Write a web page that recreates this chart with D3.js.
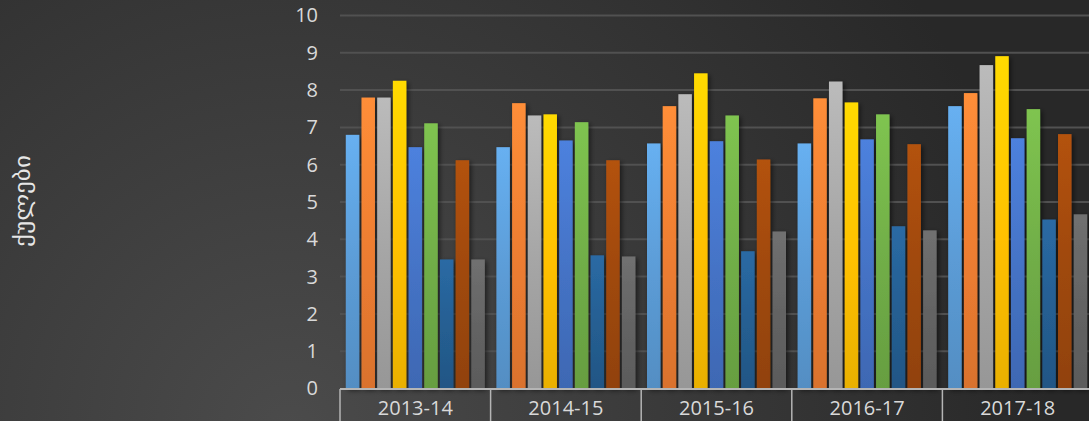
<!DOCTYPE html>
<html>
<head>
<meta charset="utf-8">
<script src="https://cdn.jsdelivr.net/npm/d3@7"></script>
<style>
  html, body { margin: 0; padding: 0; background: #2c2c2c; }
  svg { display: block; }
</style>
</head>
<body>
<div id="chart"></div>
<script>
// ── 데이터 ──────────────────────────────────────────────
const years = ["2013-14", "2014-15", "2015-16", "2016-17", "2017-18"];
const seriesColors = ["#5b9bd5", "#ed7d31", "#a5a5a5", "#ffc000", "#4472c4",
                      "#70ad47", "#255e91", "#9e480e", "#636363"];
// 연도별, 시리즈 순서대로
const s1 = [6.8, 6.47, 6.57, 6.57, 7.57];
const s2 = [7.8, 7.65, 7.57, 7.78, 7.92];
const s3 = [7.8, 7.32, 7.89, 8.23, 8.67];
const s4 = [8.25, 7.35, 8.45, 7.67, 8.91];
const s5 = [6.47, 6.65, 6.63, 6.68, 6.71];
const s6 = [7.11, 7.14, 7.32, 7.35, 7.49];
const s7 = [3.46, 3.57, 3.68, 4.35, 4.53];
const s8 = [6.12, 6.12, 6.14, 6.55, 6.82];
const s9 = [3.46, 3.54, 4.21, 4.24, 4.67];
const yTicks = [0, 1, 2, 3, 4, 5, 6, 7, 8, 9, 10];
const yTitle = "ქულები";

const series = [s1, s2, s3, s4, s5, s6, s7, s8, s9];

// ── 캔버스 ──────────────────────────────────────────────
const W = 1089, H = 421;
const svg = d3.select("#chart").append("svg").attr("width", W).attr("height", H);
const defs = svg.append("defs");

const bg = defs.append("radialGradient").attr("id", "bg")
  .attr("gradientUnits", "userSpaceOnUse")
  .attr("cx", 290).attr("cy", 430).attr("r", 760);
bg.append("stop").attr("offset", "0%").attr("stop-color", "#4b4b4b");
bg.append("stop").attr("offset", "100%").attr("stop-color", "#282828");
svg.append("rect").attr("width", W).attr("height", H).attr("fill", "url(#bg)");

// 막대 그라데이션 (위 밝게, 아래 약간 어둡게)
seriesColors.forEach((c, i) => {
  const g = defs.append("linearGradient").attr("id", "g" + i)
    .attr("x1", 0).attr("y1", 0).attr("x2", 0).attr("y2", 1);
  g.append("stop").attr("offset", "0%").attr("stop-color", d3.color(c).brighter(0.35));
  g.append("stop").attr("offset", "55%").attr("stop-color", c);
  g.append("stop").attr("offset", "100%").attr("stop-color", d3.color(c).darker(0.25));
});

const shadow = defs.append("filter").attr("id", "shadow")
  .attr("x", "-30%").attr("y", "-10%").attr("width", "180%").attr("height", "130%");
shadow.append("feDropShadow").attr("dx", 2).attr("dy", 2).attr("stdDeviation", 2.5)
  .attr("flood-color", "#000").attr("flood-opacity", 0.55);

// ── 스케일 ──────────────────────────────────────────────
const x0 = d3.scaleBand().domain(years).range([340, 1093]).paddingInner(0).paddingOuter(0);
const x1 = d3.scaleBand().domain(d3.range(series.length)).range([0, x0.bandwidth()])
  .paddingInner(0.14).paddingOuter(0.37);
const y = d3.scaleLinear().domain([0, 10]).range([388.5, 15.5]);

// 그리드
svg.append("g").selectAll("line").data(yTicks.slice(1)).enter().append("line")
  .attr("x1", 340).attr("x2", W)
  .attr("y1", d => y(d)).attr("y2", d => y(d))
  .attr("stroke", "#515151").attr("stroke-width", 2);

// y축 눈금 라벨
const yAxis = svg.append("g").attr("transform", "translate(318,0)")
  .call(d3.axisLeft(y).tickValues(yTicks).tickSize(0).tickPadding(0));
yAxis.select(".domain").remove();
yAxis.selectAll("text").attr("fill", "#d9d9d9")
  .style("font-family", "'Open Sans', sans-serif").style("font-size", "20px");

// 막대
const groups = svg.append("g").selectAll("g").data(years).enter().append("g")
  .attr("transform", d => `translate(${x0(d)},0)`);
groups.selectAll("rect")
  .data((d, yi) => series.map((s, si) => ({ si, v: s[yi] })))
  .enter().append("rect")
  .attr("x", d => x1(d.si))
  .attr("width", x1.bandwidth())
  .attr("y", d => y(d.v))
  .attr("height", d => y(0) - y(d.v))
  .attr("fill", d => `url(#g${d.si})`)
  .attr("filter", "url(#shadow)");

// 범주축 (박스형)
const xAxis = svg.append("g").attr("transform", `translate(0,${y(0) + 0.5})`);
xAxis.append("line").attr("x1", 340).attr("x2", W).attr("y1", 0).attr("y2", 0)
  .attr("stroke", "#b5b5b5").attr("stroke-width", 2);
xAxis.selectAll("line.sep").data(years.concat(["end"])).enter().append("line")
  .attr("class", "sep")
  .attr("x1", (d, i) => 340 + i * x0.step()).attr("x2", (d, i) => 340 + i * x0.step())
  .attr("y1", 0).attr("y2", 40)
  .attr("stroke", "#b5b5b5").attr("stroke-width", 1.5);
xAxis.selectAll("text").data(years).enter().append("text")
  .attr("x", d => x0(d) + x0.bandwidth() / 2).attr("y", 26)
  .attr("text-anchor", "middle").attr("fill", "#d9d9d9")
  .style("font-family", "'Open Sans', sans-serif").style("font-size", "20px")
  .text(d => d);

// y축 제목
svg.append("text")
  .attr("transform", "translate(30,201) rotate(-90)")
  .attr("text-anchor", "middle").attr("fill", "#e6e6e6")
  .attr("textLength", 92).attr("lengthAdjust", "spacingAndGlyphs")
  .style("font-family", "'DejaVu Sans', sans-serif").style("font-size", "21px")
  .text(yTitle);
</script>
</body>
</html>
